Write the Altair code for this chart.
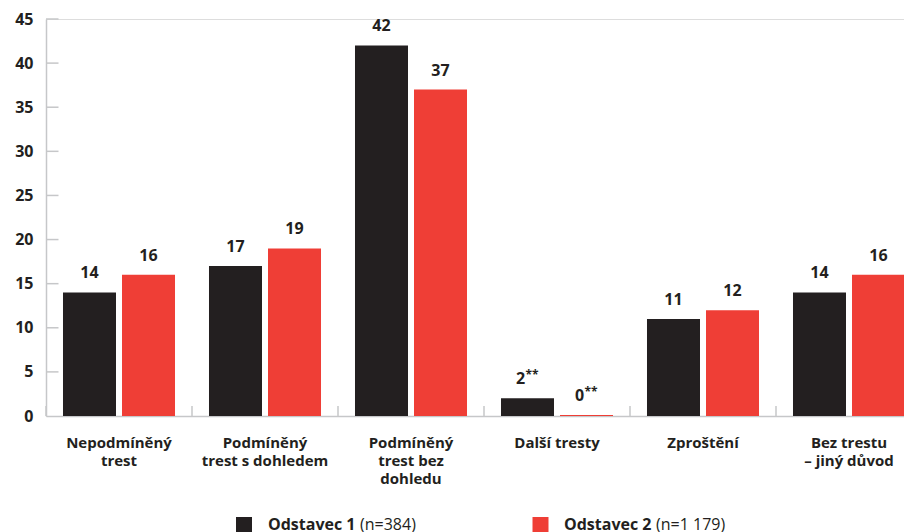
import altair as alt
import pandas as pd

categories = ["Nepodmíněný\ntrest", "Podmíněný\ntrest s dohledem", "Podmíněný\ntrest bez\ndohledu",
              "Další tresty", "Zproštění", "Bez trestu\n– jiný důvod"]
series = ["Odstavec 1", "Odstavec 2"]
series_n = ["(n=384)", "(n=1 179)"]
colors = ["#231f20", "#ef3e36"]
values1 = [14, 17, 42, 2, 11, 14]
values2 = [16, 19, 37, 0.1, 12, 16]
labels1 = ["14", "17", "42", "2", "11", "14"]
labels2 = ["16", "19", "37", "0", "12", "16"]
flags1 = ["", "", "", "**", "", ""]
flags2 = ["", "", "", "**", "", ""]
y_ticks = [0, 5, 10, 15, 20, 25, 30, 35, 40, 45]

rows = []
for s, vals, labs, fl in [(series[0], values1, labels1, flags1), (series[1], values2, labels2, flags2)]:
    for c, v, l, f in zip(categories, vals, labs, fl):
        rows.append({"cat": c, "series": s, "value": v, "label": l, "flag": f})
df = pd.DataFrame(rows)

W, H = 858, 397
TEXT = "#231f20"
GRAY = "#c6c7c9"
FONT = "Open Sans"

xscale = alt.Scale(domain=categories, range=[0, 876], paddingInner=0, paddingOuter=0)
yscale = alt.Scale(domain=[0, 45], nice=False)
x_axis = alt.Axis(title=None, labelExpr="split(datum.label, '\\n')", labelAngle=0,
                  labelFont=FONT, labelFontSize=15, labelFontWeight="bold", labelColor=TEXT,
                  labelLineHeight=18, labelPadding=19, ticks=False, domainColor=GRAY,
                  domainWidth=1.5, labelLimit=300)
y_axis = alt.Axis(title=None, values=y_ticks, ticks=False, grid=False, labelFont=FONT,
                  labelFontSize=16, labelFontWeight="bold", labelColor=TEXT, labelPadding=13,
                  domainColor=GRAY, domainWidth=1.5)
xo_scale = alt.Scale(domain=series, paddingInner=0.1017, paddingOuter=0.288)

base = alt.Chart(df)
X = alt.X("cat:N", scale=xscale, axis=x_axis, sort=categories)
Y = alt.Y("value:Q", scale=yscale, axis=y_axis)
XO = alt.XOffset("series:N", scale=xo_scale, sort=series)

bars = base.mark_bar().encode(
    x=X, y=Y, xOffset=XO,
    color=alt.Color("series:N", scale=alt.Scale(domain=series, range=colors), legend=None),
)
lab_plain = base.transform_filter("datum.flag == ''").mark_text(
    font=FONT, fontSize=16, fontWeight="bold", color=TEXT, dy=-14, baseline="alphabetic"
).encode(x=X, y=Y, xOffset=XO, text="label:N")
lab_flag = base.transform_filter("datum.flag != ''").mark_text(
    font=FONT, fontSize=16, fontWeight="bold", color=TEXT, dy=-14, dx=-7, baseline="alphabetic"
).encode(x=X, y=Y, xOffset=XO, text="label:N")
lab_ast = base.transform_filter("datum.flag != ''").mark_text(
    font=FONT, fontSize=12, fontWeight="bold", color=TEXT, dy=-19, dx=-2, align="left",
    baseline="alphabetic"
).encode(x=X, y=Y, xOffset=XO, text="flag:N")

xt = alt.Chart(pd.DataFrame({"cat": categories})).mark_rule(color=GRAY, strokeWidth=1.5).encode(
    x=alt.X("cat:N", scale=xscale, axis=x_axis, sort=categories, bandPosition=0),
    y=alt.value(H - 10), y2=alt.value(H),
)
yt = alt.Chart(pd.DataFrame({"value": y_ticks[1:]})).mark_rule(color=GRAY, strokeWidth=1.5).encode(
    y=Y, x=alt.value(0), x2=alt.value(12.5),
)

legend_layers = []
leg_pos = [(198, 222, 314), (494.5, 518, 610)]
for (sq, tx, tx2), s, n, c in zip(leg_pos, series, series_n, colors):
    d = alt.Chart(pd.DataFrame({"s": [s], "n": [n]}))
    legend_layers.append(d.mark_square(size=256, color=c, opacity=1).encode(
        x=alt.value(sq), y=alt.value(506)))
    legend_layers.append(d.mark_text(font=FONT, fontSize=16, fontWeight="bold", color=TEXT,
                                     align="left", baseline="alphabetic").encode(
        x=alt.value(tx), y=alt.value(511), text="s:N"))
    legend_layers.append(d.mark_text(font=FONT, fontSize=16, color=TEXT,
                                     align="left", baseline="alphabetic").encode(
        x=alt.value(tx2), y=alt.value(511), text="n:N"))

chart = alt.layer(bars, lab_plain, lab_flag, lab_ast, xt, yt, *legend_layers).properties(
    width=W, height=H,
    autosize=alt.AutoSizeParams(type="none"),
    padding={"left": 38, "top": 11, "right": 0, "bottom": 116},
).configure_view(stroke=None).configure(background="white")

chart.save("out.html", embed_options={"renderer": "svg", "actions": False})
